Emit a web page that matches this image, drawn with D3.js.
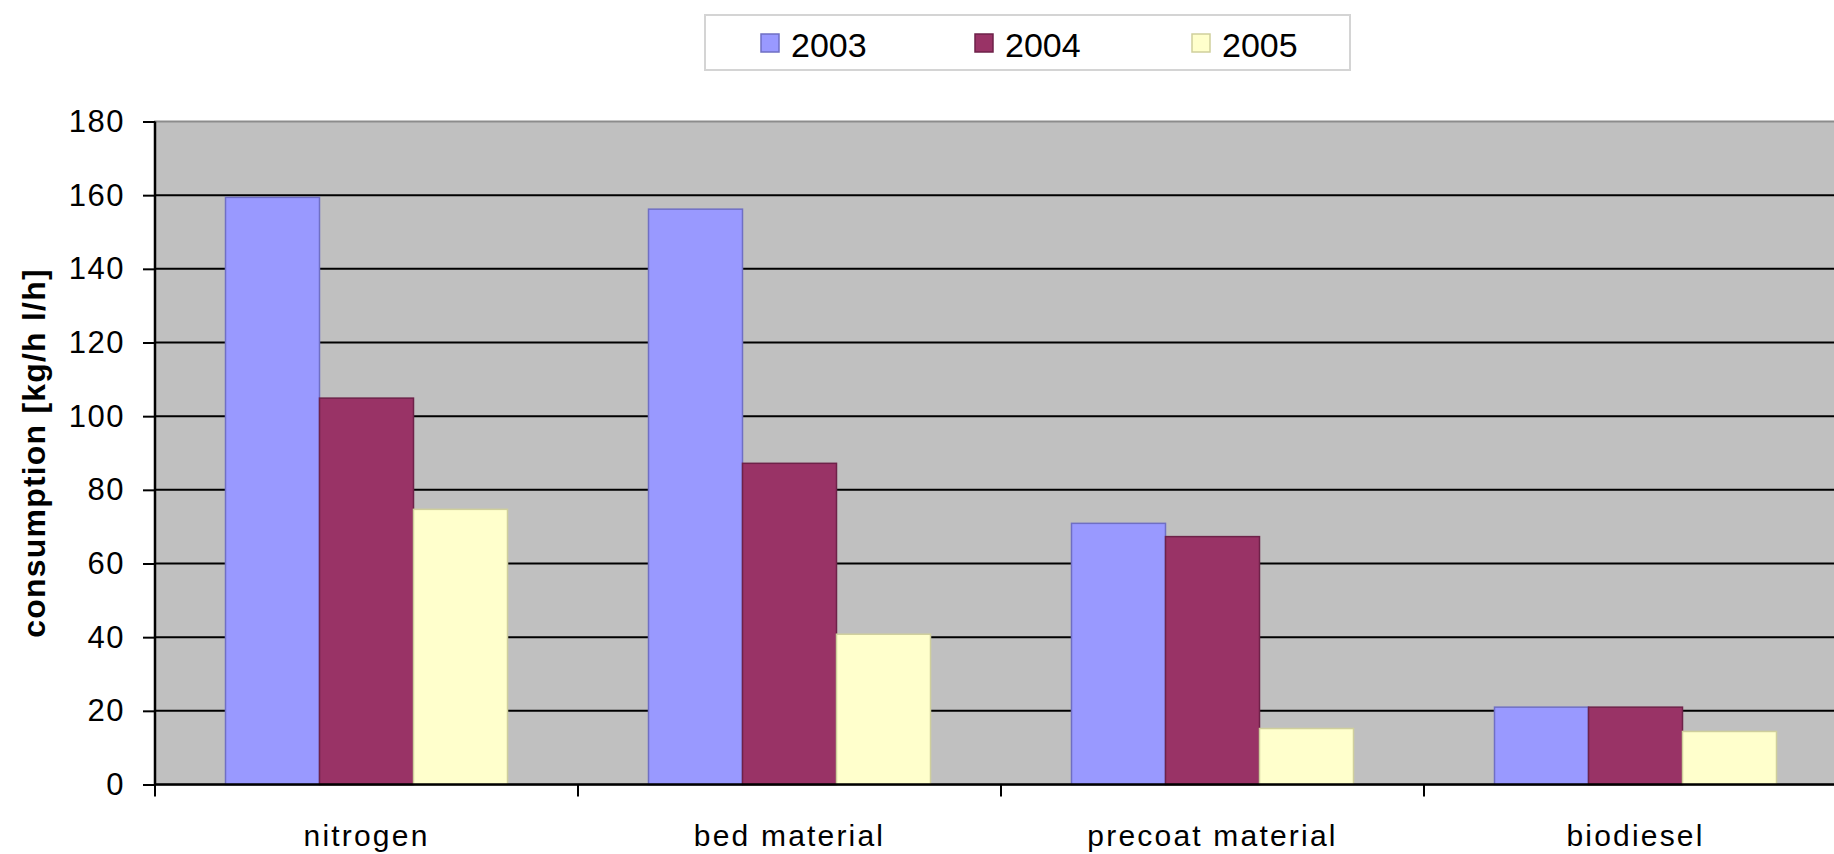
<!DOCTYPE html>
<html>
<head>
<meta charset="utf-8">
<script src="https://cdn.jsdelivr.net/npm/d3@7"></script>
<style>
  body { margin: 0; background: #fff; }
  svg { display: block; font-family: "Liberation Sans", Arial, sans-serif; }
</style>
</head>
<body>
<svg width="1834" height="854"></svg>
<script>
// chart data
var categories = ["nitrogen", "bed material", "precoat material", "biodiesel"];
var years = ["2003", "2004", "2005"];
var values2003 = [159.4, 156.2, 70.9, 21];
var values2004 = [104.9, 87.2, 67.3, 21];
var values2005 = [74.7, 40.8, 15.2, 14.4];
var yTicks = [0, 20, 40, 60, 80, 100, 120, 140, 160, 180];

var fills = ["#9999ff", "#993366", "#ffffcc"];
var strokes = ["#6f6fc4", "#6e2249", "#cfcf9c"];

var svg = d3.select("svg"),
    marginLeft = 155,
    marginTop = 121.5,
    height = 663,
    width = 423 * 4;

var x = d3.scaleBand().domain(categories).range([0, width]);
var xs = d3.scaleBand().domain(years).range([70.5, 423 - 70.5]);
var y = d3.scaleLinear().domain([0, 180]).range([height, 0]);

var series = [values2003, values2004, values2005];

var g = svg.append("g")
    .attr("transform", "translate(" + marginLeft + "," + marginTop + ")");

// plot background
g.append("rect")
    .attr("width", width)
    .attr("height", height)
    .attr("fill", "#c0c0c0")
    .attr("stroke", "#8c8c8c")
    .attr("stroke-width", 2);

// gridlines
g.selectAll(".grid")
    .data(yTicks.filter(d => d > 0 && d < 180))
    .enter().append("line")
    .attr("x1", 0)
    .attr("x2", width)
    .attr("y1", d => y(d))
    .attr("y2", d => y(d))
    .attr("stroke", "#000")
    .attr("stroke-width", 2);

// bars
years.forEach(function (yr, i) {
    g.selectAll(".bar" + yr)
        .data(series[i])
        .enter().append("rect")
        .attr("x", (d, j) => x(categories[j]) + xs(yr))
        .attr("y", d => y(d))
        .attr("width", xs.bandwidth())
        .attr("height", d => height - y(d))
        .attr("fill", fills[i])
        .attr("stroke", strokes[i])
        .attr("stroke-width", 1.5);
});

// y axis
var yAxis = g.append("g")
    .call(d3.axisLeft(y).tickValues(yTicks).tickSize(12).tickPadding(18));
yAxis.select(".domain").attr("stroke-width", 2.5).attr("d", "M0," + height + "V0");
yAxis.selectAll(".tick line").attr("stroke-width", 2);
yAxis.selectAll("text")
    .attr("font-size", 31)
    .attr("letter-spacing", 1.5)
    .attr("fill", "#000")
    .attr("font-family", "Liberation Sans, Arial, sans-serif");

// x axis
var xAxis = g.append("g")
    .attr("transform", "translate(0," + height + ")")
    .call(d3.axisBottom(x).tickSize(0).tickPadding(40));
xAxis.select(".domain").attr("stroke-width", 2.5).attr("d", "M0,0H" + width);
xAxis.selectAll("text")
    .attr("font-size", 30)
    .attr("letter-spacing", 2.2)
    .attr("fill", "#000")
    .attr("font-family", "Liberation Sans, Arial, sans-serif");

xAxis.selectAll(".sep")
    .data(categories)
    .enter().append("line")
    .attr("x1", d => x(d))
    .attr("x2", d => x(d))
    .attr("y1", 0)
    .attr("y2", 12)
    .attr("stroke", "#000")
    .attr("stroke-width", 2);

// y axis title
svg.append("text")
    .attr("transform", "translate(45," + (marginTop + height / 2) + ") rotate(-90)")
    .attr("text-anchor", "middle")
    .attr("font-size", 32)
    .attr("font-weight", "bold")
    .attr("letter-spacing", 1.2)
    .text("consumption [kg/h l/h]");

// legend
var legend = svg.append("g").attr("transform", "translate(705,15)");
legend.append("rect")
    .attr("width", 645)
    .attr("height", 55)
    .attr("fill", "#fff")
    .attr("stroke", "#d4d4d4")
    .attr("stroke-width", 2);

var item = legend.selectAll(".item")
    .data(years)
    .enter().append("g")
    .attr("transform", (d, i) => "translate(" + [56, 270, 487][i] + ",0)");

item.append("rect")
    .attr("y", 19)
    .attr("width", 18)
    .attr("height", 18)
    .attr("fill", (d, i) => fills[i])
    .attr("stroke", (d, i) => strokes[i])
    .attr("stroke-width", 1.5);

item.append("text")
    .attr("x", 30)
    .attr("y", 42)
    .attr("font-size", 34)
    .text(d => d);
</script>
</body>
</html>
